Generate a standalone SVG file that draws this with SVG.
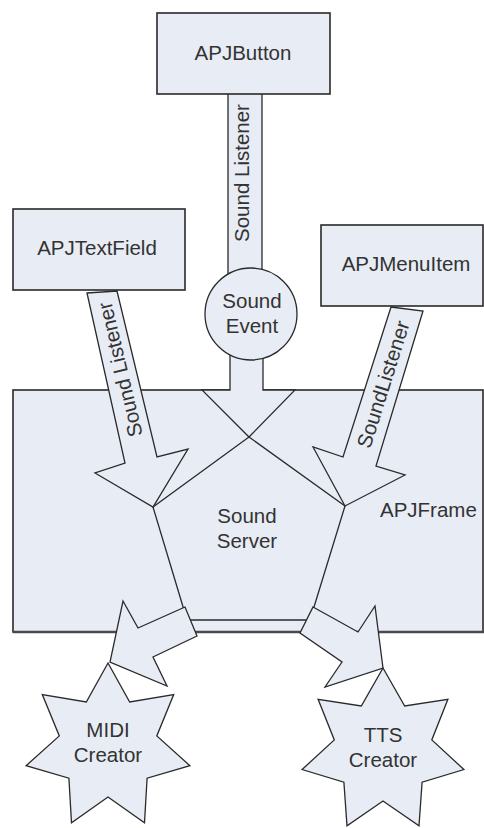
<svg xmlns="http://www.w3.org/2000/svg" width="484" height="828" viewBox="0 0 484 828">
<style>
.s{fill:#e8ecf4;stroke:#2a2a2a;stroke-width:1.3;stroke-linejoin:miter}
.box{fill:#e8ecf4;stroke:#2a2a2a;stroke-width:1.6}
.t{font-family:"Liberation Sans",Arial,sans-serif;font-size:20.5px;fill:#333}
.c{text-anchor:middle}
</style>
<rect width="484" height="828" fill="#fff"/>
<g id="APJFrame">
<rect class="box" x="13" y="390" width="470" height="242"/>
<line x1="13" y1="632" x2="484" y2="632" stroke="#4a4a4a" stroke-width="2.6"/>
<text class="t" x="380" y="517">APJFrame</text>
</g>
<g id="SoundServer">
<polygon class="s" points="249,437 345,506 310,620 187,620 153,507"/>
<text class="t c" x="247" y="523">Sound</text>
<text class="t c" x="247" y="548">Server</text>
</g>
<g id="connectors">
<polygon class="s" points="228,92 262,92 262,280 228,280"/>
<text class="t c" transform="translate(249,173) rotate(-90)">Sound Listener</text>
<polygon class="s" points="230,350 263,350 263,390 295,390 249,437 202,390 230,390"/>
<polygon class="s" points="87,293 117,291 157,457 188,449 153,507 95,473 125,463"/>
<text class="t c" transform="translate(127,368) rotate(-103.3)">Sound Listener</text>
<polygon class="s" points="391,307 423,311 376,466 405,475 345,506 313,447 343,457"/>
<text class="t c" transform="translate(390,386.5) rotate(-72.5)">SoundListener</text>
<polygon class="s" points="185,607 138,628 123,601 110,662 167,686 153,657 197,636"/>
<polygon class="s" points="313,607 358,632 375,606 383,668 325,687 342,662 300,633"/>
</g>
<g id="SoundEvent">
<circle class="s" cx="251" cy="314" r="46"/>
<text class="t c" x="252" y="308">Sound</text>
<text class="t c" x="252" y="333">Event</text>
</g>
<g id="APJButton">
<rect class="box" x="157" y="13" width="173" height="81"/>
<text class="t c" x="243" y="60">APJButton</text>
</g>
<g id="APJTextField">
<rect class="box" x="13" y="209" width="172" height="81"/>
<text class="t c" x="97" y="255">APJTextField</text>
</g>
<g id="APJMenuItem">
<rect class="box" x="321" y="225" width="162" height="81"/>
<text class="t c" x="406" y="271">APJMenuItem</text>
</g>
<g id="MIDICreator">
<polygon class="s" points="108,663 129.7,702 173.7,694.6 156.8,735.9 189.9,765.7 147.1,778.2 144.5,822.7 108,797 71.5,822.7 68.9,778.2 26.1,765.7 59.3,735.9 42.3,694.6 86.3,702"/>
<text class="t c" x="108" y="737">MIDI</text>
<text class="t c" x="108" y="762">Creator</text>
</g>
<g id="TTSCreator">
<polygon class="s" points="383,668 404.7,706 447.9,699.3 431.8,739.9 463.9,769.5 422.1,782.2 419,825.8 383,801 347,825.8 343.9,782.2 302.1,769.5 334.3,739.9 318.1,699.3 361.3,706"/>
<text class="t c" x="383" y="742">TTS</text>
<text class="t c" x="383" y="767">Creator</text>
</g>
</svg>
